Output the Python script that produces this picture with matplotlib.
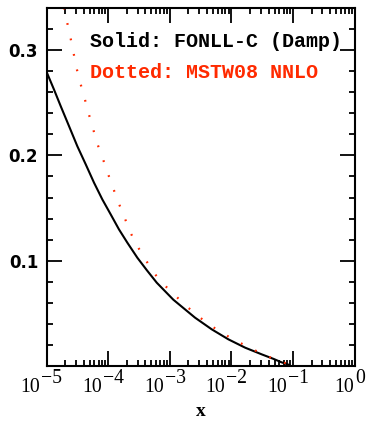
import matplotlib
matplotlib.use("Agg")
import matplotlib.pyplot as plt
from matplotlib.ticker import FixedLocator, NullFormatter, LogLocator
import matplotlib.transforms as mtransforms

# ---- data ----
fonll_x = [1e-5, 1.32e-5, 1.70e-5, 2.32e-5, 3.16e-5, 4.33e-5, 5.90e-5, 8.05e-5,
           1.10e-4, 1.50e-4, 2.05e-4, 2.98e-4, 4.24e-4, 6.15e-4, 1.14e-3,
           2.57e-3, 4.8e-3, 8.94e-3, 1.67e-2, 3.12e-2, 4.8e-2, 6.5e-2, 8.9e-2]
fonll_y = [0.2795, 0.2627, 0.2468, 0.2278, 0.2088, 0.1915, 0.1741, 0.1582,
           0.1440, 0.1297, 0.1171, 0.1028, 0.0910, 0.0791, 0.0630,
           0.0459, 0.0348, 0.0253, 0.0174, 0.0110, 0.0068, 0.0035, 0.0008]

mstw_x = [1.92e-5, 2.47e-5, 3.09e-5, 3.59e-5, 4.17e-5, 4.84e-5, 5.69e-5, 6.68e-5,
          8.17e-5, 9.86e-5, 1.2e-4, 1.46e-4, 1.81e-4, 2.24e-4, 2.91e-4, 3.73e-4,
          5.22e-4, 7.59e-4, 1.14e-3, 1.73e-3, 2.70e-3, 4.24e-3, 6.98e-3,
          1.15e-2, 1.94e-2, 3.24e-2, 5.46e-2, 9.55e-2]
mstw_y = [0.3403, 0.3108, 0.2823, 0.2674, 0.2538, 0.2396, 0.2254, 0.2111,
          0.1972, 0.1832, 0.1693, 0.1556, 0.1424, 0.1281, 0.1148, 0.1045,
          0.0902, 0.0787, 0.0687, 0.0585, 0.0487, 0.0398, 0.0316,
          0.0243, 0.0177, 0.0110, 0.0056, 0.0006]

ytick_vals = [0.1, 0.2, 0.3]
ytick_labels = ["0.1", "0.2", "0.3"]
yminor_vals = [0.02, 0.04, 0.06, 0.08, 0.12, 0.14, 0.16, 0.18, 0.22, 0.24,
               0.26, 0.28, 0.32]
xtick_exponents = [-5, -4, -3, -2, -1, 0]

legend_solid = "Solid: FONLL-C (Damp)"
legend_dotted = "Dotted: MSTW08 NNLO"
xlabel = "x"

RED = "#ff2a00"

fig = plt.figure(figsize=(3.68, 4.21), dpi=100)
L, R, T, B = 46.5, 354.7, 8.0, 366.0
ax = fig.add_axes([L / 368, 1 - B / 421, (R - L) / 368, (B - T) / 421])

ax.plot(fonll_x, fonll_y, color="black", lw=1.5, solid_capstyle="butt",
        solid_joinstyle="round")
ax.plot(mstw_x, mstw_y, color=RED, lw=1.6, linestyle=(0, (0.8, 6.3)),
        dash_capstyle="butt")

ax.set_xscale("log")
ax.set_xlim(1e-5, 1)
ax.set_ylim(0, 0.34)

for s in ax.spines.values():
    s.set_linewidth(1.5)

ax.yaxis.set_major_locator(FixedLocator(ytick_vals))
ax.set_yticklabels(ytick_labels)
ax.yaxis.set_minor_locator(FixedLocator(yminor_vals))
ax.xaxis.set_major_locator(LogLocator(base=10, numticks=10))
ax.xaxis.set_minor_locator(LogLocator(base=10, subs=range(2, 10), numticks=20))
ax.xaxis.set_major_formatter(NullFormatter())
ax.xaxis.set_minor_formatter(NullFormatter())

ax.tick_params(which="both", direction="in", top=True, right=True, width=1.3)
ax.tick_params(which="major", length=11)
ax.tick_params(which="minor", length=4)
ax.tick_params(axis="y", which="major", pad=6, labelsize=12)
for lab in ax.get_yticklabels():
    lab.set_fontfamily("DejaVu Sans")
    lab.set_fontweight("bold")

# x tick labels: "10" with a raised, full-size exponent
fig.canvas.draw()
renderer = fig.canvas.get_renderer()
trans = ax.get_xaxis_transform()
fs = 14.2
for e in xtick_exponents:
    xv = 10.0 ** e
    ex = ("\u2212" + str(-e)) if e < 0 else str(e)
    tb = ax.text(0, 0, "10", fontsize=fs, family="Liberation Serif")
    te = ax.text(0, 0, ex, fontsize=fs, family="Liberation Serif")
    wb = tb.get_window_extent(renderer).width
    we = te.get_window_extent(renderer).width
    tb.remove(); te.remove()
    total = wb + 1 + we
    x0 = -5 - total / 2.0  # pixels relative to tick
    base_off = mtransforms.offset_copy(trans, fig=fig, x=x0 * 72 / 100, y=-25.7 * 72 / 100, units="points")
    exp_off = mtransforms.offset_copy(trans, fig=fig, x=(x0 + wb + 1) * 72 / 100, y=-16.7 * 72 / 100, units="points")
    ax.text(xv, 0, "10", transform=base_off, fontsize=fs, family="Liberation Serif",
            ha="left", va="baseline", clip_on=False)
    ax.text(xv, 0, ex, transform=exp_off, fontsize=fs, family="Liberation Serif",
            ha="left", va="baseline", clip_on=False)

ax.text(0.141, 0.892, legend_solid, transform=ax.transAxes, fontsize=14.4,
        family="Liberation Mono", fontweight="bold", color="black", ha="left", va="baseline")
ax.text(0.141, 0.8036, legend_dotted, transform=ax.transAxes, fontsize=14.4,
        family="Liberation Mono", fontweight="bold", color=RED, ha="left", va="baseline")

fig.text(201 / 368, 1 - 416.5 / 421, xlabel, fontsize=14, family="Liberation Serif",
         fontweight="bold", ha="center", va="baseline")

fig.savefig("out.png", dpi=100)
